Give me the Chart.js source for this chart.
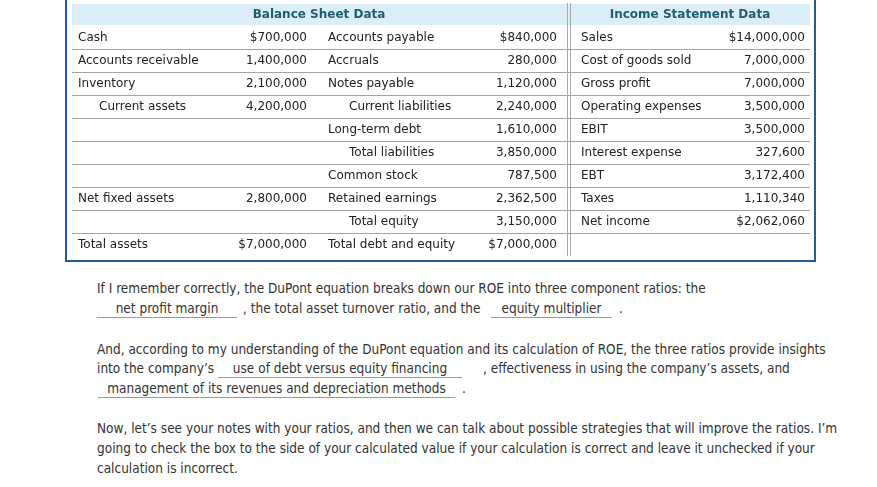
<!DOCTYPE html>
<html><head><meta charset="utf-8">
<script src="https://cdn.jsdelivr.net/npm/chart.js@4"></script>
<style>
html,body{margin:0;padding:0;background:#fff;width:877px;height:487px;overflow:hidden;}
#wrap{position:absolute;left:0;top:0;width:877px;height:265px;}
.t{position:absolute;white-space:nowrap;font-family:"DejaVu Sans Condensed","DejaVu Sans",sans-serif;font-size:13.5px;line-height:20px;height:20px;color:#333;}
.bl{border-bottom:1px solid #999;text-align:center;height:18px;line-height:18px;}
</style></head><body>
<div id="wrap"><canvas id="c" width="877" height="265"></canvas></div>
<div class="t" style="left:97px;top:278px">If I remember correctly, the DuPont equation breaks down our ROE into three component ratios: the</div>
<div class="t bl" style="left:97px;top:299px;width:140px">net profit margin</div>
<div class="t" style="left:243px;top:298px">, the total asset turnover ratio, and the</div>
<div class="t bl" style="left:491px;top:299px;width:121px">equity multiplier</div>
<div class="t" style="left:619px;top:298px">.</div>
<div class="t" style="left:97px;top:339px">And, according to my understanding of the DuPont equation and its calculation of ROE, the three ratios provide insights</div>
<div class="t" style="left:97px;top:358px">into the company’s</div>
<div class="t bl" style="left:218px;top:359px;width:244px">use of debt versus equity financing</div>
<div class="t" style="left:483px;top:358px">, effectiveness in using the company’s assets, and</div>
<div class="t bl" style="left:98px;top:379px;width:357px">management of its revenues and depreciation methods</div>
<div class="t" style="left:462px;top:378px">.</div>
<div class="t" style="left:97px;top:418px">Now, let’s see your notes with your ratios, and then we can talk about possible strategies that will improve the ratios. I’m</div>
<div class="t" style="left:97px;top:438px">going to check the box to the side of your calculated value if your calculation is correct and leave it unchecked if your</div>
<div class="t" style="left:97px;top:458px">calculation is incorrect.</div>
<script>
// ---- data ----
const headers = ['Balance Sheet Data', 'Income Statement Data'];
const assetLabels = ['Cash','Accounts receivable','Inventory','Current assets','','','','Net fixed assets','','Total assets'];
const assetValues = [700000,1400000,2100000,4200000,null,null,null,2800000,null,7000000];
const liabLabels = ['Accounts payable','Accruals','Notes payable','Current liabilities','Long-term debt','Total liabilities','Common stock','Retained earnings','Total equity','Total debt and equity'];
const liabValues = [840000,280000,1120000,2240000,1610000,3850000,787500,2362500,3150000,7000000];
const incomeLabels = ['Sales','Cost of goods sold','Gross profit','Operating expenses','EBIT','Interest expense','EBT','Taxes','Net income',''];
const incomeValues = [14000000,7000000,7000000,3500000,3500000,327600,3172400,1110340,2062060,null];
const subtotalLabels = ['Current assets','Current liabilities','Total liabilities','Total equity'];
const dollarAssetRows = [0,9];
const dollarLiabRows = [0,9];
const dollarIncomeRows = [0,8];

const rowKeys = ['header'].concat(assetLabels.map((_, i) => 'r' + (i + 1)));

// layout (pixels)
const L = {tableLeft:72, tableRight:810, dbl1:567, dbl2:570,
  c1:78, c2:307, c3:328, c4:557, c5:581, c6:805, indent:21,
  h1:319, h2:690, boxL:66, boxR:815, boxB:261};

function fmt(v, dollar){ if(v===null||v===undefined) return ''; return (dollar?'$':'') + v.toLocaleString('en-US'); }

const tablePlugin = {
  id:'tablePlugin',
  afterDatasetsDraw(chart){
    const ctx = chart.ctx, x = chart.scales.x, y = chart.scales.y;
    const band = (y.getPixelForValue(1) - y.getPixelForValue(0));
    ctx.save();
    ctx.strokeStyle = '#a3a3a3'; ctx.lineWidth = 1;
    for(let i=1;i<=9;i++){
      const yy = Math.round(y.getPixelForValue(i) + band/2) + 0.5;
      ctx.beginPath(); ctx.moveTo(x.getPixelForValue(L.tableLeft), yy); ctx.lineTo(x.getPixelForValue(L.tableRight), yy); ctx.stroke();
    }
    const top = y.getPixelForValue(0) - band/2, bot = y.getPixelForValue(10) + band/2;
    ctx.strokeStyle = '#aaaaaa';
    [L.dbl1, L.dbl2].forEach(v => { const xx = x.getPixelForValue(v) + 0.5; ctx.beginPath(); ctx.moveTo(xx, top); ctx.lineTo(xx, bot); ctx.stroke(); });
    ctx.strokeStyle = '#1f5f95'; ctx.lineWidth = 2;
    ctx.beginPath();
    ctx.moveTo(x.getPixelForValue(L.boxL), 0);
    ctx.lineTo(x.getPixelForValue(L.boxL), L.boxB);
    ctx.lineTo(x.getPixelForValue(L.boxR), L.boxB);
    ctx.lineTo(x.getPixelForValue(L.boxR), 0);
    ctx.stroke();
    ctx.textBaseline = 'middle';
    ctx.font = 'bold 12px "DejaVu Sans", Verdana, sans-serif';
    ctx.fillStyle = '#1b5e70'; ctx.textAlign = 'center';
    const hy = y.getPixelForValue(0);
    ctx.fillText(headers[0], x.getPixelForValue(L.h1), hy);
    ctx.fillText(headers[1], x.getPixelForValue(L.h2), hy);
    ctx.font = '12px "DejaVu Sans", Verdana, sans-serif';
    ctx.fillStyle = '#222';
    for(let i=0;i<10;i++){
      const yy = y.getPixelForValue(i+1) + 0.5;
      const ind = s => subtotalLabels.includes(s) ? L.indent : 0;
      ctx.textAlign = 'left';
      ctx.fillText(assetLabels[i], x.getPixelForValue(L.c1 + ind(assetLabels[i])), yy);
      ctx.fillText(liabLabels[i], x.getPixelForValue(L.c3 + ind(liabLabels[i])), yy);
      ctx.fillText(incomeLabels[i], x.getPixelForValue(L.c5), yy);
      ctx.textAlign = 'right';
      ctx.fillText(fmt(assetValues[i], dollarAssetRows.includes(i)), x.getPixelForValue(L.c2), yy);
      ctx.fillText(fmt(liabValues[i], dollarLiabRows.includes(i)), x.getPixelForValue(L.c4), yy);
      ctx.fillText(fmt(incomeValues[i], dollarIncomeRows.includes(i)), x.getPixelForValue(L.c6), yy);
    }
    ctx.restore();
  }
};

new Chart(document.getElementById('c'), {
  type:'bar',
  data:{
    labels: rowKeys,
    datasets:[{
      data: rowKeys.map((k,i) => i===0 ? [L.tableLeft, L.tableRight] : null),
      backgroundColor:'#dbeef8', borderWidth:0,
      barPercentage:1, categoryPercentage:21/23
    }]
  },
  options:{
    indexAxis:'y', responsive:false, animation:false, devicePixelRatio:1,
    layout:{padding:{top:3,bottom:9,left:0,right:0}},
    plugins:{legend:{display:false}, tooltip:{enabled:false}},
    scales:{
      x:{type:'linear', min:0, max:877, display:false},
      y:{type:'category', display:false, offset:true}
    }
  },
  plugins:[tablePlugin]
});
</script>
</body></html>
